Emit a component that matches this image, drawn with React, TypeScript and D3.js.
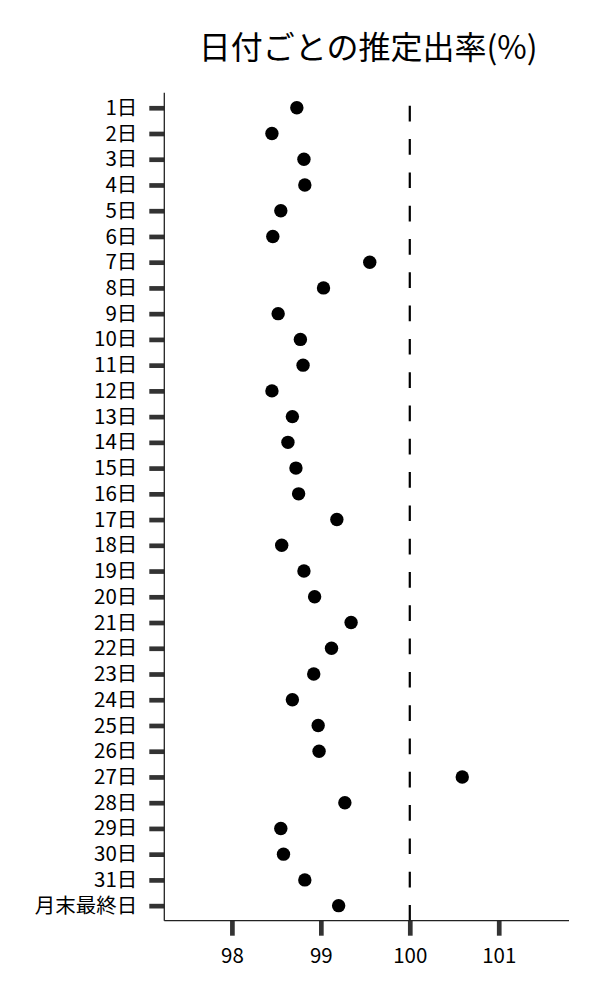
import React, { useEffect, useRef } from 'react';
import * as d3 from 'd3';

// categories (top to bottom)
const days: string[] = [
  '1日', '2日', '3日', '4日', '5日', '6日', '7日', '8日', '9日', '10日',
  '11日', '12日', '13日', '14日', '15日', '16日', '17日', '18日', '19日', '20日',
  '21日', '22日', '23日', '24日', '25日', '26日', '27日', '28日', '29日', '30日',
  '31日', '月末最終日'
];

// estimated rate (%) per day
const rates: number[] = [
  98.73, 98.45, 98.81, 98.82, 98.55, 98.46, 99.55, 99.03, 98.52, 98.77,
  98.8, 98.45, 98.68, 98.63, 98.72, 98.75, 99.18, 98.56, 98.81, 98.93,
  99.34, 99.12, 98.92, 98.68, 98.97, 98.98, 100.59, 99.27, 98.55, 98.58,
  98.82, 99.2
];

const xTicks: number[] = [98, 99, 100, 101];
const xDomain: [number, number] = [97.24, 101.79];
const refValue = 100;
const title = '日付ごとの推定出率(%)';

const FONT = '"Noto Sans CJK JP", "Noto Sans", sans-serif';

const App: React.FC = () => {
  const svgRef = useRef<SVGSVGElement>(null);

  useEffect(() => {
    if (!svgRef.current) return;
    const svg = d3.select(svgRef.current);
    svg.selectAll('*').remove();

    const W = 600;
    const H = 1000;
    const left = 164.3;
    const right = 569;
    const top = 92.7;
    const bottom = 920.7;

    svg.attr('width', W).attr('height', H).attr('viewBox', `0 0 ${W} ${H}`);

    const x = d3.scaleLinear().domain(xDomain).range([left, right]);
    const y = d3.scalePoint<string>().domain(days).range([top, bottom]).padding(0.585);

    // title
    svg.append('text')
      .attr('x', (left + right) / 2 + 1.5)
      .attr('y', 59)
      .attr('text-anchor', 'middle')
      .attr('font-family', FONT)
      .attr('font-size', 32)
      .attr('fill', '#000')
      .text(title);

    // reference line at 100
    svg.append('line')
      .attr('x1', x(refValue))
      .attr('x2', x(refValue))
      .attr('y1', bottom)
      .attr('y2', top)
      .attr('stroke', '#000')
      .attr('stroke-width', 2.2)
      .attr('stroke-dasharray', '15.7 17.6');

    // x axis
    const xAxis = svg.append('g')
      .attr('transform', `translate(0,${bottom})`)
      .call(d3.axisBottom(x).tickValues(xTicks).tickSize(15).tickPadding(13).tickFormat(d3.format('d')));
    xAxis.select('.domain').remove();
    xAxis.selectAll('.tick line').attr('stroke', '#333').attr('stroke-width', 4.7);
    xAxis.selectAll('.tick text')
      .attr('font-family', FONT)
      .attr('font-size', 20.5)
      .attr('fill', '#000');

    // y axis
    const yAxis = svg.append('g')
      .attr('transform', `translate(${left},0)`)
      .call(d3.axisLeft(y).tickSize(15).tickPadding(12));
    yAxis.select('.domain').remove();
    yAxis.selectAll('.tick line').attr('stroke', '#333').attr('stroke-width', 4.7);
    yAxis.selectAll('.tick text')
      .attr('font-family', FONT)
      .attr('font-size', 20.5)
      .attr('fill', '#000');

    // spines
    svg.append('line')
      .attr('x1', left).attr('x2', left)
      .attr('y1', top).attr('y2', bottom)
      .attr('stroke', '#222').attr('stroke-width', 1.3);
    svg.append('line')
      .attr('x1', left).attr('x2', right)
      .attr('y1', bottom).attr('y2', bottom)
      .attr('stroke', '#222').attr('stroke-width', 1.3);

    // points
    svg.append('g')
      .selectAll('circle')
      .data(days)
      .enter()
      .append('circle')
      .attr('cx', (_, i) => x(rates[i]))
      .attr('cy', d => y(d) ?? 0)
      .attr('r', 6.7)
      .attr('fill', '#000');
  }, []);

  return (
    <div style={{ position: 'absolute', left: 0, top: 0, width: 600, height: 1000, background: '#fff' }}>
      <svg ref={svgRef} style={{ display: 'block' }} />
    </div>
  );
};

export default App;
